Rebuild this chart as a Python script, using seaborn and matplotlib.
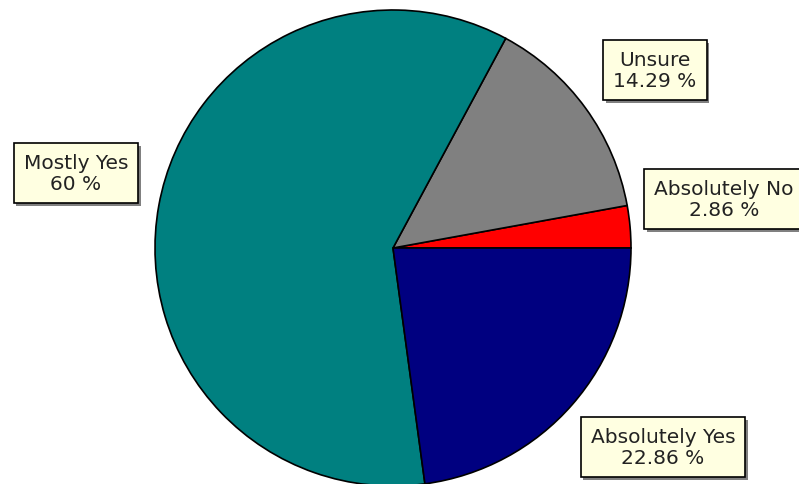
import matplotlib.pyplot as plt
import matplotlib.patheffects as pe
import seaborn as sns

categories = ['Absolutely No', 'Unsure', 'Mostly Yes', 'Absolutely Yes']
shares = [2.86, 14.29, 60.0, 22.86]
colors = ['#FF0000', '#808080', '#008080', '#000080']

# label box centres, in pixels from top-left
label_pos = [(724, 200), (655, 71), (76, 174), (663, 448)]

sns.set_style('white')
plt.rcParams['font.family'] = ['DejaVu Sans']

W, H = 799, 485
fig = plt.figure(figsize=(W / 100, H / 100), dpi=100)
ax = fig.add_axes([0, 0, 1, 1])

ax.pie(
    shares,
    colors=colors,
    startangle=0,
    counterclock=True,
    center=(393, H - 249),
    radius=238,
    wedgeprops=dict(edgecolor='black', linewidth=1.2),
    frame=True,
)
ax.set_xlim(0, W)
ax.set_ylim(0, H)
ax.set_aspect('equal')
ax.axis('off')

for name, val, (x, y) in zip(categories, shares, label_pos):
    txt = f"{name}\n{val:g} %"
    t = ax.text(
        x, H - y, txt,
        ha='center', va='center', fontsize=14.5,
        linespacing=1.1, color='#222222',
        bbox=dict(boxstyle='square,pad=0.5', fc='#FFFFE1', ec='black', lw=1.2),
    )
    t.get_bbox_patch().set_path_effects(
        [pe.SimplePatchShadow(offset=(2, -2), shadow_rgbFace='#808080', alpha=1), pe.Normal()]
    )

fig.savefig('out.png', dpi=100)
